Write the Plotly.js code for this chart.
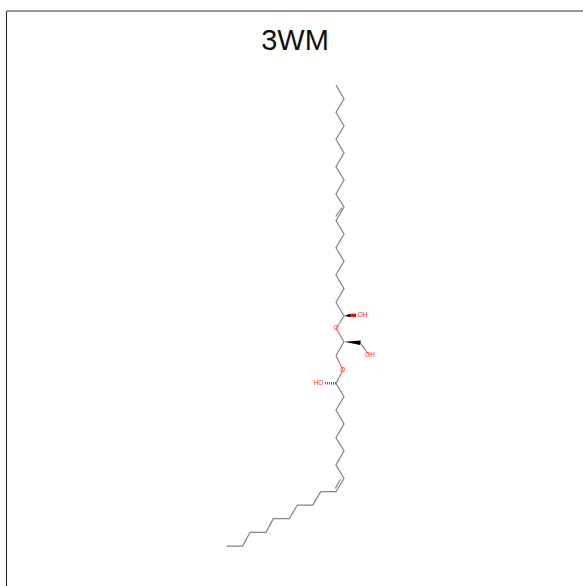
<!DOCTYPE html>
<html><head><meta charset="utf-8">
<script src="https://cdn.plot.ly/plotly-3.0.1.min.js"></script>
<style>html,body{margin:0;padding:0;background:#fff}</style></head>
<body><div id="chart" style="width:583px;height:586px"></div>
<script>
const chartTitle = "3WM";
const upperChainX = [336,344,336,344,336,344,336,344,336,344,336,344,336,344,336,344,336,344];
const upperChainY = [85,99,112.3,126,139.3,153,166.7,180,194,207,220.7,234,247.7,261.3,275,288.7,302.3,316];
const lowerChainX = [336,344,336,344,336,344,336,344,336,320.7,312.7,297.3,289.3,273.3,266,250,242.7,226.7];
const lowerChainY = [383.3,396.7,410,424,437.7,451,465,478.3,491.7,491.7,505,505,518.7,518.7,532.3,532.3,546,546];
const upperDoubleX = [342,335.7];
const upperDoubleY = [207.5,216.5];
const lowerDoubleX = [340.3,335.2];
const lowerDoubleY = [479.5,488.5];
const backboneX = [344,336,344,336,343,336];
const backboneY = [316,328.5,341.7,355.5,370,383.3];
const armX = [360,369];
const armY = [342.7,355];
const wedgeTopX = [344,350,350,344];
const wedgeTopY = [316,313.7,316.9,316];
const wedgeTopEndX = [350,356,356,350];
const wedgeTopEndY = [313.7,313.4,317,316.9];
const wedgeMidX = [344,360.8,360,344];
const wedgeMidY = [341.7,340.6,345,341.7];
const hashBlackX = [336,330];
const hashBlackY = [383.3,383.3];
const hashRedX = [330,324];
const hashRedY = [383.3,383.3];
const labelX = [362.5,336,370,342.7,318.5];
const labelY = [315,328.5,355,370,383.3];
const labelText = ["OH","O","OH","O","HO"];

const GREY = "#858585", RED = "#ff2a2a", BLACK = "#000000";
const traces = [];
function line(x,y,color,width,dash){
  traces.push({type:"scatter",mode:"lines",x,y,hoverinfo:"skip",
    line:{color,width:width||1.25,dash:dash||"solid",shape:"linear"}});
}
function fillPoly(x,y,color){
  traces.push({type:"scatter",mode:"lines",x,y,fill:"toself",fillcolor:color,hoverinfo:"skip",
    line:{color,width:0}});
}
// half-coloured bond, grey at the carbon end and red at the oxygen end
function heteroBond(x0,y0,x1,y1){
  const mx=(x0+x1)/2,my=(y0+y1)/2;
  line([x0,mx],[y0,my],GREY);
  line([mx,x1],[my,y1],"#ff6a6a");
}
line(upperChainX,upperChainY,GREY);
line(upperDoubleX,upperDoubleY,GREY);
line(lowerChainX,lowerChainY,GREY);
line(lowerDoubleX,lowerDoubleY,GREY);
for(let i=0;i<backboneX.length-1;i++){
  if(i===2){ line(backboneX.slice(2,4),backboneY.slice(2,4),GREY); continue; }
  const fromO = (i===1||i===4);
  if(fromO) heteroBond(backboneX[i+1],backboneY[i+1],backboneX[i],backboneY[i]);
  else heteroBond(backboneX[i],backboneY[i],backboneX[i+1],backboneY[i+1]);
}
heteroBond(armX[0],armY[0],armX[1],armY[1]);
fillPoly(wedgeTopX,wedgeTopY,BLACK);
fillPoly(wedgeTopEndX,wedgeTopEndY,"#e01010");
fillPoly(wedgeMidX,wedgeMidY,BLACK);
line(hashBlackX,hashBlackY,"#555555",2.6,"1px,1px");
line(hashRedX,hashRedY,RED,2.6,"1px,1px");
traces.push({type:"scatter",mode:"text",x:labelX,y:labelY,text:labelText,textposition:"middle center",
  hoverinfo:"skip",textfont:{family:"Liberation Sans, Arial, sans-serif",size:6.5,color:RED}});

const layout = {
  width:583,height:586,showlegend:false,paper_bgcolor:"#fff",plot_bgcolor:"#fff",
  margin:{l:7,t:11,r:0,b:0,pad:0},
  title:{text:chartTitle,x:0.5,xref:"paper",xanchor:"center",y:0.932,yref:"container",yanchor:"middle",
    font:{family:"Liberation Sans, Arial, sans-serif",size:29,color:"#111"}},
  xaxis:{range:[7,583],visible:true,showgrid:false,zeroline:false,showticklabels:false,ticks:"",
    showline:false},
  yaxis:{range:[586,11],visible:true,showgrid:false,zeroline:false,showticklabels:false,ticks:"",
    showline:true,linecolor:"#222",linewidth:1.4,mirror:false},
  shapes:[{type:"line",xref:"paper",yref:"paper",x0:0,x1:1,y0:1,y1:1,line:{color:"#333",width:1}}]
};
Plotly.newPlot("chart",traces,layout,{displayModeBar:false,staticPlot:true});
</script></body></html>
